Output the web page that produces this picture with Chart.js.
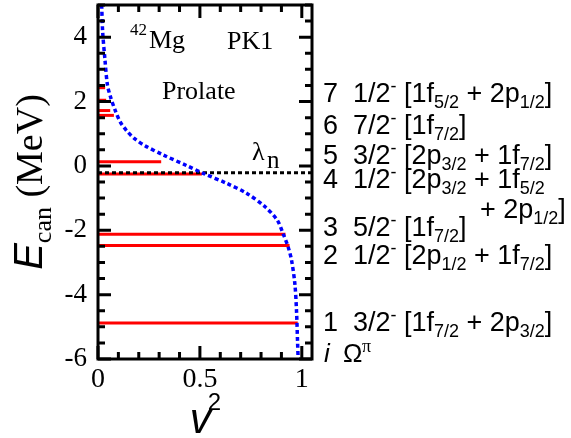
<!DOCTYPE html>
<html><head><meta charset="utf-8">
<script src="https://cdn.jsdelivr.net/npm/chart.js@4.4.1/dist/chart.umd.min.js"></script>
<style>html,body{margin:0;padding:0;background:#fff}#wrap{width:571px;height:438px}</style>
</head><body><div id="wrap"><canvas id="c" width="571" height="438"></canvas></div>
<script>
// ---------- data ----------
const levelEnergies    = [2.43, 2.04, 1.72, 1.57, 0.13, -0.25, -2.12, -2.47, -4.88];
const levelOccupations = [0.035, 0.04, 0.06, 0.078, 0.31, 0.51, 0.92, 0.94, 0.98];
const curveV2 = [0.018, 0.023, 0.034, 0.046, 0.062, 0.083, 0.108, 0.141, 0.181, 0.23, 0.32, 0.435, 0.516, 0.631, 0.729, 0.82, 0.88, 0.908, 0.933, 0.95, 0.966, 0.974, 0.979, 0.982];
const curveE  = [5.0, 4.15, 3.31, 2.53, 2.13, 1.75, 1.38, 1.09, 0.84, 0.63, 0.34, 0.01, -0.23, -0.54, -0.85, -1.27, -1.69, -2.10, -2.52, -2.94, -3.67, -4.5, -5.44, -6.0];
const fermiLevel = -0.21;
const xTickValues = [0, 0.5, 1];
const yTickValues = [-6, -4, -2, 0, 2, 4];
const xRange = [0, 1.05];
const yRange = [-6, 5];
const xMinorStep = 0.1, yMinorStep = 0.5;

const stateIndex  = ['7', '6', '5', '4', '3', '2', '1'];
const stateOmega  = ['1/2', '7/2', '3/2', '1/2', '5/2', '1/2', '3/2'];
const stateConfig = [
  [['[1f'], ['5/2', 1], [' + 2p'], ['1/2', 1], [']']],
  [['[1f'], ['7/2', 1], [']']],
  [['[2p'], ['3/2', 1], [' + 1f'], ['7/2', 1], [']']],
  [['[2p'], ['3/2', 1], [' + 1f'], ['5/2', 1]],
  [['[1f'], ['7/2', 1], [']']],
  [['[2p'], ['1/2', 1], [' + 1f'], ['7/2', 1], [']']],
  [['[1f'], ['7/2', 1], [' + 2p'], ['3/2', 1], [']']]
];
const state4Continuation = [['+ 2p'], ['1/2', 1], [']']];

// ---------- layout (pixels) ----------
const rowBaselines = [102, 134, 164, 188, 236, 264, 331];
const SANS = '"Liberation Sans", Arial, sans-serif';
const SERIF = '"Liberation Serif", "Times New Roman", serif';
Chart.defaults.font.family = 'Liberation Serif';

function drawRich(ctx, x, y, segs, mainFont, subFont, subDy) {
  for (const s of segs) {
    const isSub = s[1] === 1, isSup = s[1] === 2;
    ctx.font = (isSub || isSup) ? subFont : mainFont;
    const dy = isSub ? subDy : (isSup ? -subDy * 1.7 : 0);
    ctx.fillText(s[0], x, y + dy);
    x += ctx.measureText(s[0]).width;
  }
  return x;
}

const framePlugin = {
  id: 'frame',
  afterDatasetsDraw(chart) {
    const { ctx, chartArea: a, scales: { x, y } } = chart;
    ctx.save();
    ctx.strokeStyle = '#000';
    ctx.lineWidth = 3;
    ctx.beginPath();
    const nx = Math.round((xRange[1] - xRange[0]) / xMinorStep);
    for (let i = 0; i <= nx; i++) {
      const v = xRange[0] + i * xMinorStep;
      if (v > xRange[1] - 1e-9) break;
      const px = x.getPixelForValue(v);
      const len = (i % 5 === 0) ? 13 : 7;
      ctx.moveTo(px, a.bottom); ctx.lineTo(px, a.bottom - len);
      ctx.moveTo(px, a.top); ctx.lineTo(px, a.top + len);
    }
    const ny = Math.round((yRange[1] - yRange[0]) / yMinorStep);
    for (let i = 0; i <= ny; i++) {
      const v = yRange[0] + i * yMinorStep;
      const py = y.getPixelForValue(v);
      const len = (Math.abs(v / 2 - Math.round(v / 2)) < 1e-9) ? 13 : 7;
      ctx.moveTo(a.left, py); ctx.lineTo(a.left + len, py);
      ctx.moveTo(a.right, py); ctx.lineTo(a.right - len, py);
    }
    ctx.stroke();
    ctx.strokeRect(a.left, a.top, a.right - a.left, a.bottom - a.top);
    ctx.restore();
  },
  afterDraw(chart) {
    const { ctx, chartArea: a } = chart;
    ctx.save();
    ctx.fillStyle = '#000';
    ctx.textBaseline = 'alphabetic';
    ctx.textAlign = 'left';

    // in-plot annotations
    ctx.font = '17px ' + SERIF; ctx.fillText('42', 130, 35);
    ctx.font = '26px ' + SERIF; ctx.fillText('Mg', 149, 48);
    ctx.fillText('PK1', 227, 49);
    ctx.fillText('Prolate', 162, 99);
    ctx.font = '26px ' + SERIF; ctx.fillText('λ', 252, 160);
    ctx.font = '25px ' + SERIF; ctx.fillText('n', 267, 168);

    // right-hand level labels
    const MAIN = '27px ' + SANS, SUB = '18px ' + SANS;
    for (let r = 0; r < stateIndex.length; r++) {
      const b = rowBaselines[r];
      ctx.font = MAIN;
      ctx.fillText(stateIndex[r], 323, b);
      drawRich(ctx, 353, b, [[stateOmega[r]], ['-', 2]], MAIN, SUB, 6);
      drawRich(ctx, 404, b, stateConfig[r], MAIN, SUB, 6);
    }
    drawRich(ctx, 480, 218, state4Continuation, MAIN, SUB, 6);
    ctx.font = 'italic 26px ' + SANS; ctx.fillText('i', 324, 362);
    ctx.font = '26px ' + SANS; ctx.fillText('Ω', 343, 362);
    ctx.font = '18px ' + SERIF; ctx.fillText('π', 362, 352);

    // x-axis title v^2
    ctx.font = 'italic 42px ' + SANS;
    const vw = ctx.measureText('v').width;
    ctx.font = '24px ' + SANS;
    const tw = ctx.measureText('2').width;
    const cx = (a.left + a.right) / 2 + 2;
    const x0 = cx - (vw + tw) / 2;
    ctx.font = 'italic 42px ' + SANS; ctx.fillText('v', x0, 433);
    ctx.font = '24px ' + SANS; ctx.fillText('2', x0 + vw - 3, 410);

    // y-axis title E_can (MeV)
    ctx.translate(42, (a.top + a.bottom) / 2);
    ctx.rotate(-Math.PI / 2);
    const segs = [['E', 'italic 40px ' + SANS, 0], ['can', '26px ' + SERIF, 9], [' (MeV)', '38px ' + SERIF, 0]];
    let total = 0;
    for (const s of segs) { ctx.font = s[1]; total += ctx.measureText(s[0]).width; }
    let px = -total / 2;
    for (const s of segs) { ctx.font = s[1]; ctx.fillText(s[0], px, s[2]); px += ctx.measureText(s[0]).width; }
    ctx.restore();
  }
};

const datasets = [];
datasets.push({
  label: 'v2 curve',
  data: curveV2.map((v, i) => ({ x: v, y: curveE[i] })),
  showLine: true, borderColor: '#0000ff', borderWidth: 3.5, borderDash: [4, 3],
  pointRadius: 0, tension: 0.3, fill: false
});
datasets.push({
  label: 'lambda',
  data: [{ x: xRange[0], y: fermiLevel }, { x: xRange[1], y: fermiLevel }],
  showLine: true, borderColor: '#000', borderWidth: 3, borderDash: [4, 3],
  pointRadius: 0, fill: false
});
levelEnergies.forEach((e, i) => {
  datasets.push({
    label: 'level ' + i,
    data: [{ x: 0, y: e }, { x: levelOccupations[i], y: e }],
    showLine: true, borderColor: '#ff0000', borderWidth: 3,
    pointRadius: 0, fill: false
  });
});

new Chart(document.getElementById('c'), {
  type: 'scatter',
  data: { datasets },
  options: {
    responsive: false,
    animation: false,
    devicePixelRatio: 1,
    layout: { padding: { left: 0, top: 5, right: 259, bottom: 0 } },
    plugins: { legend: { display: false }, tooltip: { enabled: false } },
    scales: {
      x: {
        type: 'linear', min: xRange[0], max: xRange[1],
        grid: { display: false, drawTicks: false }, border: { display: false },
        afterBuildTicks: s => { s.ticks = xTickValues.map(v => ({ value: v })); },
        afterFit: s => { s.height = 79; s.paddingLeft = 0; s.paddingRight = 0; },
        ticks: { color: '#000', padding: 4, font: { family: 'Liberation Serif', size: 28 }, maxRotation: 0, autoSkip: false,
                 callback: v => String(v) }
      },
      y: {
        type: 'linear', min: yRange[0], max: yRange[1],
        grid: { display: false, drawTicks: false }, border: { display: false },
        afterBuildTicks: s => { s.ticks = yTickValues.map(v => ({ value: v })); },
        afterFit: s => { s.width = 98; s.paddingTop = 0; s.paddingBottom = 0; },
        ticks: { color: '#000', padding: 11, font: { family: 'Liberation Serif', size: 27 }, autoSkip: false,
                 callback: v => String(v) }
      }
    }
  },
  plugins: [framePlugin]
});
</script></body></html>
